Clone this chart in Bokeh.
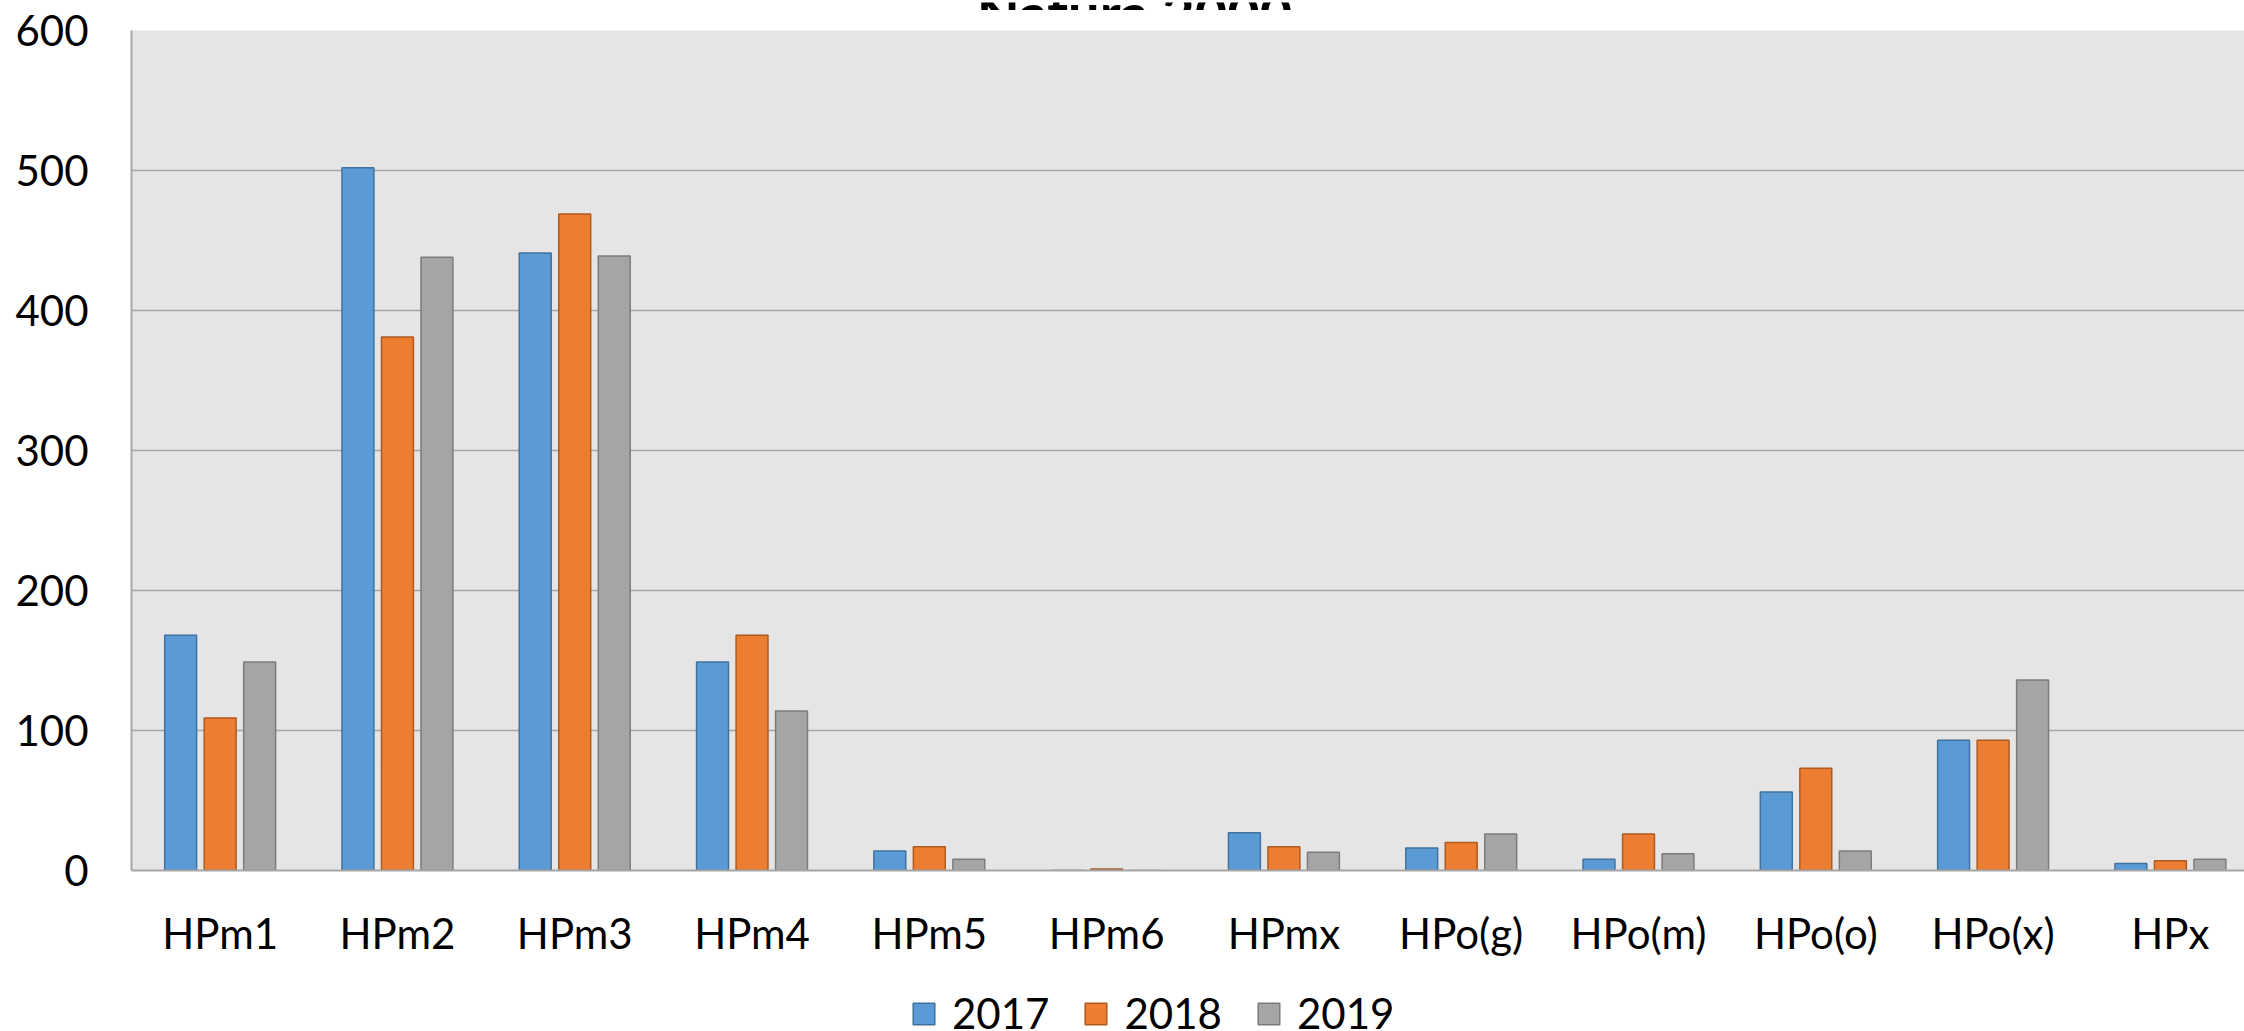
from bokeh.plotting import figure
from bokeh.layouts import column
from bokeh.models import Range1d, FixedTicker, Label, Legend, LegendItem, ColumnDataSource
from bokeh.embed import file_html
from bokeh.resources import INLINE

# ---- data ----
categories = ["HPm1", "HPm2", "HPm3", "HPm4", "HPm5", "HPm6", "HPmx",
              "HPo(g)", "HPo(m)", "HPo(o)", "HPo(x)", "HPx"]
years = ["2017", "2018", "2019"]
v2017 = [168, 502, 441, 149, 14, 0, 27, 16, 8, 56, 93, 5]
v2018 = [109, 381, 469, 168, 17, 1, 17, 20, 26, 73, 93, 7]
v2019 = [149, 438, 439, 114, 8, 0, 13, 26, 12, 14, 136, 8]
y_ticks = [0, 100, 200, 300, 400, 500, 600]
title_text = "Natura 2000"

# ---- styles ----
fills = ["#5B9BD5", "#ED7D31", "#A5A5A5"]
lines = ["#41719C", "#AE5A21", "#7C7C7C"]
offsets = [-0.2228, 0.0, 0.2228]
bar_w = 0.18
FONT = "Lato"

W = 2244
H_TITLE, H_MAIN, H_LEG = 10, 950, 71

x_range = Range1d(0, 11.918)

# ---- title strip (the reference shows only the bottom of the title) ----
tt = figure(width=W, height=H_TITLE, output_backend="svg", toolbar_location=None,
            x_range=x_range, y_range=Range1d(0, 1),
            min_border_left=131, min_border_right=0, min_border_top=0,
            min_border_bottom=0)
tt.axis.visible = False
tt.grid.visible = False
tt.outline_line_color = None
tt.background_fill_color = "white"
tt.border_fill_color = "white"
tt.add_layout(Label(x=5.657, y=0, text=title_text, text_font=FONT,
                    text_font_style="bold", text_font_size="56px",
                    text_align="center", text_baseline="alphabetic",
                    text_color="black"))

# ---- main chart ----
p = figure(width=W, height=H_MAIN, output_backend="svg", toolbar_location=None,
           x_range=x_range, y_range=Range1d(0, 600),
           min_border_left=131, min_border_right=0, min_border_top=20,
           min_border_bottom=90)
p.background_fill_color = "#E5E5E5"
p.border_fill_color = "white"
p.outline_line_color = None

centers = [i + 0.5 for i in range(len(categories))]
sources = []
for k, vals in enumerate([v2017, v2018, v2019]):
    src = ColumnDataSource(dict(x=[c + offsets[k] for c in centers], top=vals))
    sources.append(src)
    p.vbar(x="x", top="top", width=bar_w, bottom=0, source=src,
           fill_color=fills[k], line_color=lines[k], line_width=1.5)

p.xaxis.ticker = FixedTicker(ticks=centers)
p.xaxis.major_label_overrides = {c: lab for c, lab in zip(centers, categories)}
p.yaxis.ticker = FixedTicker(ticks=y_ticks)
for ax in (p.xaxis, p.yaxis):
    ax.major_tick_out = 0
    ax.major_tick_in = 0
    ax.minor_tick_out = 0
    ax.minor_tick_in = 0
    ax.axis_line_color = "#A6A6A6"
    ax.axis_line_width = 2
    ax.major_label_text_font = FONT
    ax.major_label_text_font_size = "42px"
    ax.major_label_text_color = "black"
p.yaxis.major_label_standoff = 43
p.xaxis.major_label_standoff = 37

p.xgrid.visible = False
p.ygrid.ticker = FixedTicker(ticks=y_ticks)
p.ygrid.grid_line_color = "#A6A6A6"
p.ygrid.grid_line_width = 1.5

# ---- legend strip below the chart ----
lg = figure(width=W, height=H_LEG, output_backend="svg", toolbar_location=None,
            x_range=Range1d(0, 1), y_range=Range1d(0, 1),
            min_border_left=0, min_border_right=0, min_border_top=0,
            min_border_bottom=0)
lg.axis.visible = False
lg.grid.visible = False
lg.outline_line_color = None
lg.background_fill_color = "white"
lg.border_fill_color = "white"
proxies = []
for k in range(3):
    r = lg.vbar(x="x", top="top", width=bar_w, source=sources[k],
                fill_color=fills[k], line_color=lines[k], line_width=1.5)
    r.visible = False
    proxies.append(r)
legend = Legend(items=[LegendItem(label=y, renderers=[r]) for y, r in zip(years, proxies)],
                location=(779, -7), orientation="horizontal",
                glyph_width=27, glyph_height=27, label_standoff=15, spacing=33,
                padding=0, margin=0, border_line_color=None,
                background_fill_alpha=0, inactive_fill_alpha=0,
                label_text_font=FONT,
                label_text_font_size="42px", label_text_color="black")
lg.add_layout(legend, "center")

layout = column(tt, p, lg, spacing=0)
open("out.html", "w").write(file_html(layout, INLINE))
